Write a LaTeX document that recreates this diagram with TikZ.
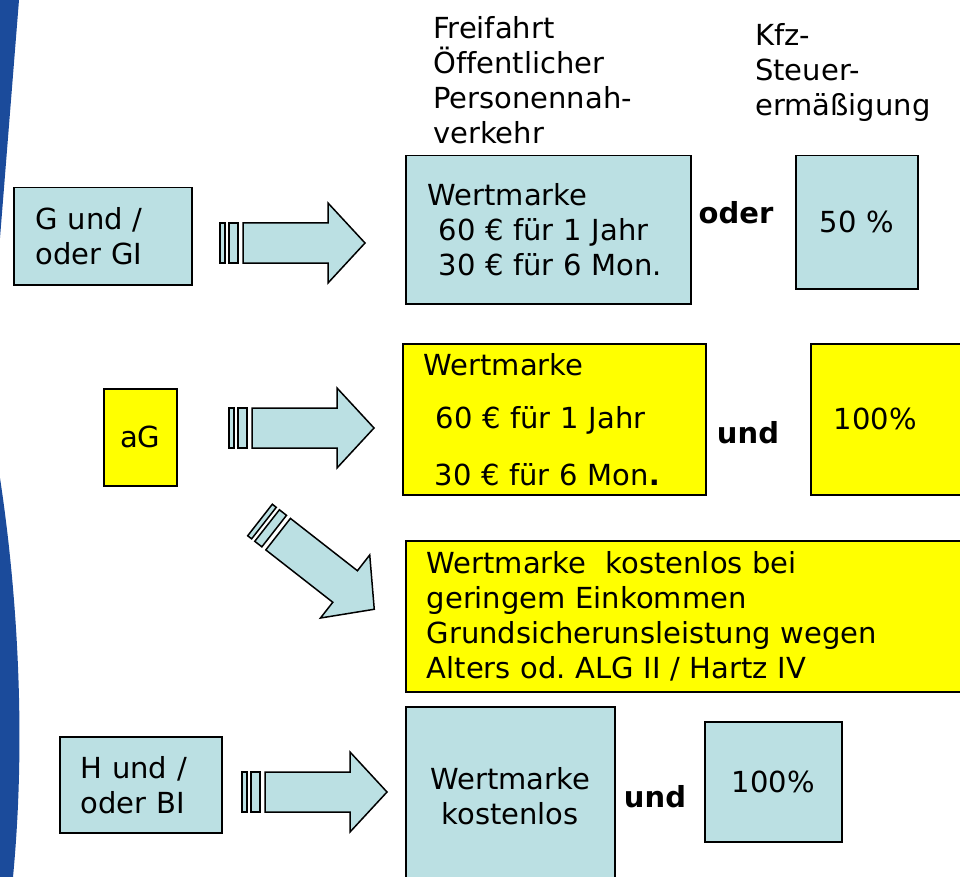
\documentclass[tikz,border=0pt]{standalone}
\usepackage{fontspec}
\setmainfont[Ligatures=NoCommon]{DejaVu Sans}
\frenchspacing
\usetikzlibrary{positioning}
\definecolor{boxblue}{RGB}{187,224,227}
\definecolor{boxyellow}{RGB}{255,255,0}
\definecolor{bandblue}{RGB}{27,75,155}
\tikzset{
  txt/.style={font=\fontsize{29}{35}\selectfont, inner sep=0pt},
  bold/.style={txt, font=\fontsize{29}{35}\selectfont\bfseries},
  bluebox/.style={txt, draw, fill=boxblue, line width=1.5pt, anchor=north west},
  yellowbox/.style={bluebox, fill=boxyellow},
  arrowline/.style={draw, fill=boxblue, line width=1.5pt},
  pics/fatarrow/.style={code={
    \draw[arrowline] (0,-20) rectangle (5,20);
    \draw[arrowline] (9,-20) rectangle (18,20);
    \draw[arrowline] (23,-20) -- (108,-20) -- (108,-40) -- (145,0) -- (108,40) -- (108,20) -- (23,20) -- cycle;
  }}
}
\begin{document}
\begin{tikzpicture}[x=1pt, y=-1pt]
  \useasboundingbox (0,0) rectangle (960,877);
  % blue band on the left
  \fill[bandblue] (0,0) -- (19,0) -- (0,238) -- cycle;
  \fill[bandblue] (0,478) .. controls (14,570) and (28,720) .. (13,877) -- (0,877) -- cycle;

  % column heads
  \node[txt, anchor=west, align=left] (ffahrt) at (433,80) {Freifahrt\\Öffentlicher\\Personennah-\\verkehr};
  \node[txt, anchor=west, align=left] (kfz) at (755,73) {Kfz-\\Steuer-\\ermäßigung};

  % G und / oder GI
  \node[bluebox, minimum width=178pt, minimum height=97pt, text width=134pt, inner xsep=22pt, align=left] (g) at (13,187) {G und /\\oder GI};
  \pic (arrg) at (220,243) {fatarrow};
  \node[bluebox, minimum width=285pt, minimum height=148pt, text width=241pt, inner xsep=22pt, align=left] (wmg) at (405,155)
    {Wertmarke\\\hspace*{11pt}60 € für 1 Jahr\\\hspace*{11pt}30 € für 6 Mon.};
  \node[bold] (oder) at (736,213) {oder};
  \node[bluebox, minimum width=122pt, minimum height=133pt, align=center] (kfzg) at (795,155) {50 \%};

  % aG
  \node[yellowbox, minimum width=73pt, minimum height=97pt, align=center] (ag) at (103,388) {aG};
  \pic (arrag) at (229,428) {fatarrow};
  \node[yellowbox, minimum width=303pt, minimum height=151pt, text width=261pt, inner xsep=21pt, align=left] (wmag) at (402,343)
    {Wertmarke\\[18pt]\hspace*{12pt}60 € für 1 Jahr\\[22pt]\hspace*{11pt}30 € für 6 Mon\textbf{.}};
  \node[bold] (undag) at (748,433) {und};
  \node[yellowbox, minimum width=160pt, minimum height=151pt, text width=114pt, inner xsep=23pt, align=left] (kfzag) at (810,343) {100\%};
  \pic[rotate=-38] (arrfrei) at (260,520) {fatarrow};
  \node[yellowbox, minimum width=565pt, minimum height=151pt, text width=523pt, inner xsep=21pt, align=left] (frei) at (405,540)
    {Wertmarke\ \ kostenlos bei\\geringem Einkommen\\Grundsicherunsleistung wegen\\Alters od. ALG II / Hartz IV};

  % H und / oder BI
  \node[bluebox, minimum width=162pt, minimum height=96pt, text width=120pt, inner xsep=21pt, align=left] (h) at (59,736) {H und /\\oder BI};
  \pic (arrh) at (242,792) {fatarrow};
  \node[bluebox, minimum width=209pt, minimum height=179pt, align=center] (wmh) at (405,706) {Wertmarke\\kostenlos};
  \node[bold] (undh) at (655,797) {und};
  \node[bluebox, minimum width=137pt, minimum height=120pt, align=center] (kfzh) at (704,721) {100\%};
\end{tikzpicture}
\end{document}
